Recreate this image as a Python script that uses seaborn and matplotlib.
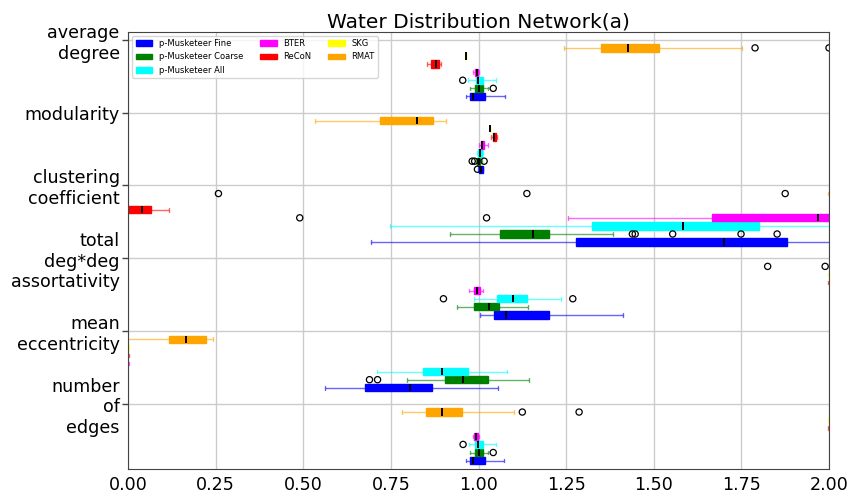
import numpy as np
import pandas as pd
import matplotlib
matplotlib.use("Agg")
import matplotlib.pyplot as plt
from matplotlib.patches import Patch
import seaborn as sns

# ---------------- data ----------------
metrics = ["average\ndegree", "modularity", "clustering\ncoefficient",
           "total\ndeg*deg\nassortativity", "mean\neccentricity", "number\nof\nedges"]
methods = ["p-Musketeer Fine", "p-Musketeer Coarse", "p-Musketeer All",
           "BTER", "ReCoN", "SKG", "RMAT"]
colors = ["#0000ff", "#008000", "#00ffff", "#ff00ff", "#ff0000", "#ffff00", "#ffa500"]
# row of each method inside a metric block (RMAT first/top)
row_in_block = [7, 6, 5, 4, 3, 2, 1]
block_size = 9

# five-number summaries per metric: [whisker low, q1, median, q3, whisker high]
fine = [[0.963, 0.976, 0.985, 1.019, 1.075],
        [0.999, 1.000, 1.007, 1.012, 1.013],
        [0.694, 1.278, 1.701, 1.879, 2.300],
        [1.004, 1.045, 1.079, 1.201, 1.411],
        [0.562, 0.675, 0.805, 0.866, 1.056],
        [0.963, 0.976, 0.985, 1.019, 1.074]]
coarse = [[0.977, 0.991, 1.001, 1.012, 1.028],
          [0.994, 0.997, 1.000, 1.005, 1.010],
          [0.918, 1.061, 1.155, 1.202, 1.385],
          [0.940, 0.986, 1.029, 1.058, 1.141],
          [0.796, 0.904, 0.957, 1.026, 1.143],
          [0.977, 0.991, 1.002, 1.012, 1.027]]
allp = [[0.971, 0.992, 0.999, 1.014, 1.049],
        [0.997, 0.999, 1.005, 1.011, 1.012],
        [0.747, 1.324, 1.584, 1.799, 2.300],
        [0.986, 1.053, 1.098, 1.138, 1.235],
        [0.710, 0.841, 0.896, 0.970, 1.080],
        [0.972, 0.991, 0.999, 1.014, 1.049]]
bter = [[0.985, 0.990, 0.995, 0.999, 1.002],
        [1.000, 1.006, 1.011, 1.016, 1.026],
        [1.256, 1.666, 1.969, 2.050, 2.300],
        [0.974, 0.987, 0.995, 1.004, 1.014],
        [-0.300, -0.200, -0.150, -0.100, 0.002],
        [0.985, 0.988, 0.993, 0.998, 1.002]]
recon = [[0.852, 0.864, 0.880, 0.887, 0.893],
         [1.036, 1.040, 1.044, 1.049, 1.054],
         [-0.050, -0.010, 0.039, 0.065, 0.117],
         [1.998, 2.200, 2.400, 2.600, 2.800],
         [-0.300, -0.200, -0.150, -0.100, 0.002],
         [1.998, 2.200, 2.400, 2.600, 2.800]]
skg = [[0.965, 0.965, 0.965, 0.965, 0.965],
       [1.034, 1.034, 1.034, 1.034, 1.034],
       [2.500, 2.600, 2.700, 2.800, 2.900],
       [1.998, 2.200, 2.400, 2.600, 2.800],
       [-0.300, -0.200, -0.150, -0.100, 0.002],
       [1.998, 2.200, 2.400, 2.600, 2.800]]
rmat = [[1.245, 1.350, 1.427, 1.515, 1.752],
        [0.534, 0.720, 0.824, 0.869, 0.906],
        [1.998, 2.200, 2.400, 2.600, 2.800],
        [2.100, 2.300, 2.500, 2.700, 2.900],
        [-0.050, 0.118, 0.165, 0.223, 0.243],
        [0.782, 0.849, 0.897, 0.954, 1.102]]

# outliers per metric
fine_fliers = [[], [0.997], [], [], [], []]
coarse_fliers = [[1.042], [0.982, 0.989, 1.016],
                 [1.439, 1.447, 1.554, 1.749, 1.852], [], [0.689, 0.712], [1.042]]
allp_fliers = [[0.955], [], [], [0.900, 1.269], [], [0.956]]
bter_fliers = [[], [], [0.490, 1.023], [], [], []]
recon_fliers = [[], [], [], [], [], []]
skg_fliers = [[], [], [], [], [], []]
rmat_fliers = [[1.789, 2.000], [], [0.258, 1.138, 1.875], [1.825, 1.989], [], [1.125, 1.287]]

summaries = [fine, coarse, allp, bter, recon, skg, rmat]
fliers = [fine_fliers, coarse_fliers, allp_fliers, bter_fliers,
          recon_fliers, skg_fliers, rmat_fliers]

# ---------------- style ----------------
sns.set_style("whitegrid", {"axes.edgecolor": "#444444", "grid.color": "#cccccc",
                            "axes.linewidth": 1.0})
plt.rcParams["font.family"] = ["DejaVu Sans"]
plt.rcParams["text.color"] = "black"
plt.rcParams["xtick.color"] = "black"
plt.rcParams["ytick.color"] = "black"

fig = plt.figure(figsize=(8.51, 4.93), dpi=100)
ax = fig.add_axes([128 / 851, 1 - 468.7 / 493, (829 - 128) / 851, (468.7 - 31.7) / 493])

flier_x, flier_y = [], []
for name, col, row, summ, fl in zip(methods, colors, row_in_block, summaries, fliers):
    recs = []
    for i, five in enumerate(summ):
        pos = block_size * i + row
        for v in five:
            recs.append({"value": v, "pos": pos})
        for v in fl[i]:
            flier_x.append(v)
            flier_y.append(pos)
    df = pd.DataFrame(recs)
    sns.boxplot(data=df, x="value", y="pos", orient="y", native_scale=True,
                whis=(0, 100), width=0.9 / block_size, color=col, linecolor=col,
                saturation=1, linewidth=1, showfliers=False,
                medianprops=dict(color="k", linewidth=1.4),
                whiskerprops=dict(alpha=0.6), capprops=dict(alpha=0.6), ax=ax)

sns.scatterplot(x=flier_x, y=flier_y, ax=ax, marker="o", s=20,
                facecolor="none", edgecolor="black", linewidth=0.9,
                zorder=5, legend=False)

ax.set_xlim(0, 2.0)
ax.set_ylim(53, -1)
ax.set_yticks([block_size * i for i in range(len(metrics))])
ax.set_yticklabels(metrics, fontsize=12.6, color="black")
ax.set_xticks([0, 0.25, 0.5, 0.75, 1.0, 1.25, 1.5, 1.75, 2.0])
ax.set_xticklabels(["0.00", "0.25", "0.50", "0.75", "1.00", "1.25", "1.50", "1.75", "2.00"],
                   fontsize=12.6, color="black")
ax.set_xlabel("")
ax.set_ylabel("")
ax.tick_params(axis="y", left=True, length=4.5, width=1, color="#444444", pad=1.5)
ax.tick_params(axis="x", bottom=False, length=0, pad=5)
ax.grid(True, color="#cccccc", linewidth=1)
ax.set_axisbelow(True)
for s in ax.spines.values():
    s.set_visible(True)
    s.set_color("#444444")

ax.set_title("Water Distribution Network(a)", fontsize=14.5, pad=3, color="black")

handles = [Patch(facecolor=c, edgecolor=c, label=m) for m, c in zip(methods, colors)]
leg = ax.legend(handles=handles, ncol=3, loc="upper left", fontsize=6.0, frameon=True)
for t in leg.get_texts():
    t.set_color("black")

fig.savefig("out.png", dpi=100)
